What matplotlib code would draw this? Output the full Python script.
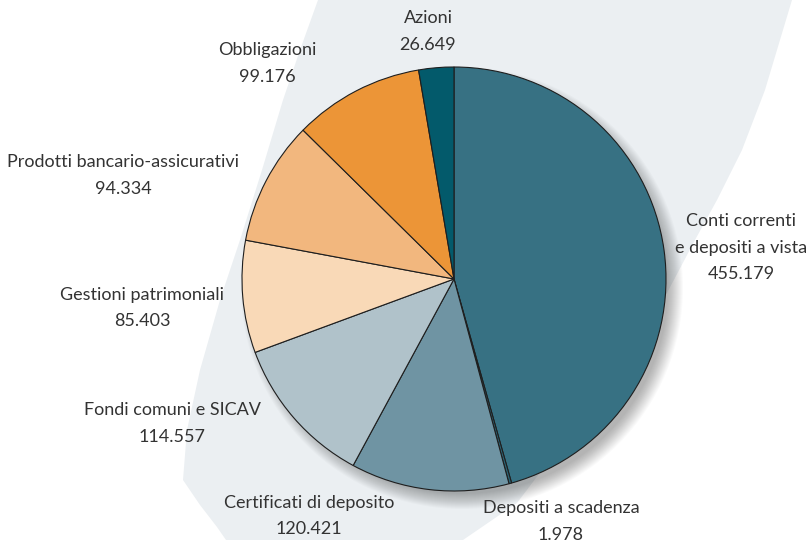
import matplotlib
matplotlib.use("Agg")
import matplotlib.pyplot as plt
from matplotlib.patches import Polygon, Circle
import numpy as np

plt.rcParams['font.family'] = ['Lato', 'DejaVu Sans']

# ---- data ----
categories = ["Conti correnti\ne depositi a vista", "Depositi a scadenza",
              "Certificati di deposito", "Fondi comuni e SICAV",
              "Gestioni patrimoniali", "Prodotti bancario-assicurativi",
              "Obbligazioni", "Azioni"]
values = [455.179, 1.978, 120.421, 114.557, 85.403, 94.334, 99.176, 26.649]
value_labels = ["455.179", "1.978", "120.421", "114.557", "85.403", "94.334", "99.176", "26.649"]

# ---- styles / positions ----
colors = ["#377183", "#2c6475", "#6f94a3", "#b0c2ca", "#f9d9b7", "#f2b77e", "#ec9537", "#035a6b"]
label_pos = [(741, 221), (561, 508), (309, 503), (172, 410), (142, 295), (123, 162), (267, 50), (428, 18)]
W, H = 810, 540
cx, cy, R = 454, 279, 212
text_color = "#333333"

fig = plt.figure(figsize=(8.1, 5.4), dpi=100)
ax = fig.add_axes([0, 0, 1, 1])

def Y(y):
    return H - y

# background swoosh
left = [(318, 0), (300, 50), (283, 100), (262, 170), (240, 240), (220, 300), (200, 370),
        (187, 430), (183, 480), (200, 505), (217, 527), (226, 540)]
right = [(463, 540), (517, 503), (580, 420), (630, 350), (667, 293), (695, 240),
         (717, 200), (742, 150), (765, 90), (792, 0)]
pts = [(x, Y(y)) for x, y in left + right]
ax.add_patch(Polygon(pts, closed=True, facecolor="#ebeff2", edgecolor="none", zorder=0))

# soft shadow
for k in range(16):
    ax.add_patch(Circle((cx + 8, Y(cy) - 9), R + 9 - k, facecolor="black",
                        edgecolor="none", alpha=0.02, zorder=1))

wedges, _ = ax.pie(values, colors=colors, startangle=90, counterclock=False,
                   center=(cx, Y(cy)), radius=R, frame=True,
                   wedgeprops=dict(edgecolor="#1e1e1e", linewidth=0.8))
for w in wedges:
    w.set_zorder(2)
ax.set_xlim(0, W)
ax.set_ylim(0, H)
ax.set_aspect('equal')
ax.axis('off')

for cat, val, (lx, ly) in zip(categories, value_labels, label_pos):
    lines = cat.split("\n") + [val]
    for i, ln in enumerate(lines):
        ax.text(lx, Y(ly + i * 26.5), ln, ha='center', va='center', fontsize=13,
                fontweight='normal', color=text_color, zorder=5)

fig.savefig("out.png", dpi=100)
